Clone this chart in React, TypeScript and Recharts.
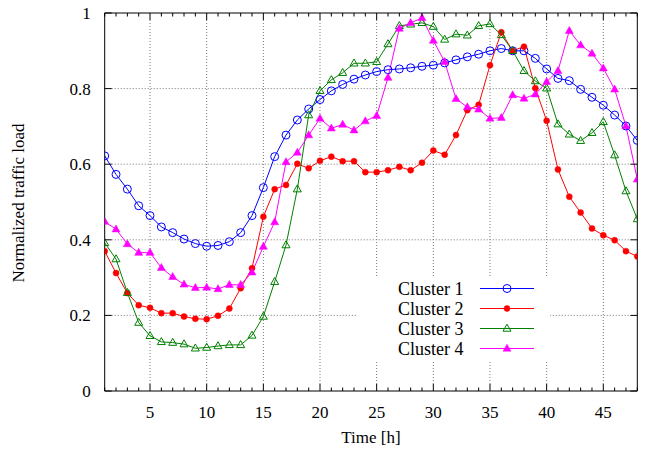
import React from 'react';
import { LineChart, Line, XAxis, YAxis, ReferenceLine, Legend } from 'recharts';

const hours = [1, 2, 3, 4, 5, 6, 7, 8, 9, 10, 11, 12, 13, 14, 15, 16, 17, 18, 19, 20, 21, 22, 23, 24,
  25, 26, 27, 28, 29, 30, 31, 32, 33, 34, 35, 36, 37, 38, 39, 40, 41, 42, 43, 44, 45, 46, 47, 48];

const cluster1 = [0.622, 0.573, 0.534, 0.490, 0.464, 0.434, 0.419, 0.402, 0.390, 0.383, 0.385, 0.395,
  0.419, 0.464, 0.538, 0.620, 0.677, 0.717, 0.746, 0.771, 0.794, 0.811, 0.825, 0.836,
  0.845, 0.850, 0.852, 0.855, 0.859, 0.862, 0.868, 0.876, 0.884, 0.891, 0.900, 0.906,
  0.900, 0.900, 0.880, 0.852, 0.827, 0.821, 0.798, 0.777, 0.756, 0.730, 0.701, 0.663];

const cluster2 = [0.370, 0.312, 0.259, 0.227, 0.220, 0.206, 0.206, 0.197, 0.191, 0.190, 0.199, 0.218,
  0.272, 0.325, 0.461, 0.534, 0.545, 0.601, 0.589, 0.609, 0.620, 0.608, 0.608, 0.579,
  0.579, 0.584, 0.593, 0.584, 0.604, 0.636, 0.625, 0.677, 0.743, 0.757, 0.862, 0.949,
  0.900, 0.911, 0.801, 0.715, 0.586, 0.514, 0.472, 0.430, 0.412, 0.399, 0.370, 0.356];

const cluster3 = [0.392, 0.349, 0.260, 0.181, 0.146, 0.130, 0.128, 0.124, 0.113, 0.115, 0.119, 0.122,
  0.122, 0.147, 0.197, 0.289, 0.386, 0.534, 0.730, 0.794, 0.823, 0.842, 0.867, 0.867,
  0.871, 0.918, 0.966, 0.970, 0.974, 0.964, 0.930, 0.944, 0.941, 0.966, 0.971, 0.942,
  0.900, 0.847, 0.820, 0.801, 0.706, 0.679, 0.662, 0.683, 0.712, 0.624, 0.529, 0.455];

const cluster4 = [0.448, 0.428, 0.389, 0.366, 0.366, 0.326, 0.302, 0.282, 0.273, 0.274, 0.270, 0.281,
  0.281, 0.314, 0.382, 0.447, 0.606, 0.631, 0.677, 0.721, 0.695, 0.705, 0.690, 0.714,
  0.728, 0.829, 0.959, 0.974, 0.987, 0.927, 0.871, 0.773, 0.751, 0.745, 0.721, 0.723,
  0.783, 0.774, 0.785, 0.818, 0.847, 0.953, 0.915, 0.893, 0.854, 0.798, 0.701, 0.560];

const seriesNames = ['Cluster 1', 'Cluster 2', 'Cluster 3', 'Cluster 4'];
const xLabelValues = [5, 10, 15, 20, 25, 30, 35, 40, 45];
const yTickValues = [0, 0.2, 0.4, 0.6, 0.8, 1];
const yTickLabels = ['0', '0.2', '0.4', '0.6', '0.8', '1'];
const yGridValues = [0.2, 0.4, 0.6, 0.8];
const xAxisTitle = 'Time [h]';
const yAxisTitle = 'Normalized traffic load';

const data = hours.map((h, i) => ({
  h,
  c1: cluster1[i],
  c2: cluster2[i],
  c3: cluster3[i],
  c4: cluster4[i],
}));

const FONT = '"Liberation Serif", "Times New Roman", serif';
const BLUE = '#0000ff';
const RED = '#ff0000';
const GREEN = '#008000';
const MAGENTA = '#ff00ff';

const MAJOR = 7;
const MINOR = 3.5;

type MarkerKind = 'openCircle' | 'dot' | 'openTri' | 'fillTri';

const Marker = ({ kind, cx, cy, color }: { kind: MarkerKind; cx: number; cy: number; color: string }) => {
  if (kind === 'openCircle') return <circle cx={cx} cy={cy} r={4} fill="none" stroke={color} strokeWidth={1} />;
  if (kind === 'dot') return <circle cx={cx} cy={cy} r={3} fill={color} stroke={color} strokeWidth={0.5} />;
  const pts = `${cx},${cy - 4.3} ${cx - 4},${cy + 2.7} ${cx + 4},${cy + 2.7}`;
  if (kind === 'openTri') return <polygon points={pts} fill="none" stroke={color} strokeWidth={1} />;
  return <polygon points={pts} fill={color} stroke={color} strokeWidth={0.5} />;
};

const series = [
  { key: 'c1', name: seriesNames[0], color: BLUE, kind: 'openCircle' as MarkerKind },
  { key: 'c2', name: seriesNames[1], color: RED, kind: 'dot' as MarkerKind },
  { key: 'c3', name: seriesNames[2], color: GREEN, kind: 'openTri' as MarkerKind },
  { key: 'c4', name: seriesNames[3], color: MAGENTA, kind: 'fillTri' as MarkerKind },
];

const makeDot = (kind: MarkerKind, color: string) => (props: any) => {
  const { cx, cy, index } = props;
  if (cx == null || cy == null) return <g key={`n${index}`} />;
  return (
    <g key={`d${kind}${index}`}>
      <Marker kind={kind} cx={cx} cy={cy} color={color} />
    </g>
  );
};

const BottomTick = (props: any) => {
  const { x, y, payload } = props;
  const v = payload.value;
  const major = v % 5 === 0;
  return (
    <g>
      <line x1={x} y1={y} x2={x} y2={y - (major ? MAJOR : MINOR)} stroke="#000" strokeWidth={1} />
      {major && (
        <text x={x} y={y + 27} textAnchor="middle" fontFamily={FONT} fontSize={17} fill="#000">
          {v}
        </text>
      )}
    </g>
  );
};

const TopTick = (props: any) => {
  const { x, y, payload } = props;
  const major = payload.value % 5 === 0;
  return <line x1={x} y1={y} x2={x} y2={y + (major ? MAJOR : MINOR)} stroke="#000" strokeWidth={1} />;
};

const LeftTick = (props: any) => {
  const { x, y, index } = props;
  return (
    <g>
      <line x1={x} y1={y} x2={x + MAJOR} y2={y} stroke="#000" strokeWidth={1} />
      <text x={x - 14} y={y + 6} textAnchor="end" fontFamily={FONT} fontSize={17} fill="#000">
        {yTickLabels[index]}
      </text>
    </g>
  );
};

const RightTick = (props: any) => {
  const { x, y } = props;
  return <line x1={x} y1={y} x2={x - MAJOR} y2={y} stroke="#000" strokeWidth={1} />;
};

const LegendBox = () => (
  <svg width={193} height={83} style={{ display: 'block', background: '#fff' }}>
    {series.map((s, i) => {
      const cy = 11.5 + i * 20;
      return (
        <g key={s.key}>
          <text x={41} y={cy + 6} fontFamily={FONT} fontSize={18} fill="#000">
            {s.name}
          </text>
          <line x1={123} y1={cy} x2={177} y2={cy} stroke={s.color} strokeWidth={1} />
          <Marker kind={s.kind} cx={150} cy={cy} color={s.color} />
        </g>
      );
    })}
  </svg>
);

export default function App() {
  return (
    <div style={{ position: 'absolute', left: 0, top: 0, width: 645, height: 452, background: '#fff' }}>
      <LineChart
        width={645}
        height={452}
        data={data}
        margin={{ top: 12, right: 6.7, bottom: 31, left: 44.7 }}
      >
        <XAxis
          xAxisId="b"
          dataKey="h"
          type="number"
          domain={[1, 48]}
          ticks={hours}
          interval={0}
          tickSize={0}
          tickMargin={0}
          tickLine={false}
          axisLine={{ stroke: '#000', strokeWidth: 1 }}
          height={30}
          tick={<BottomTick />}
          allowDataOverflow
        />
        <XAxis
          xAxisId="t"
          orientation="top"
          type="number"
          dataKey="h"
          domain={[1, 48]}
          ticks={hours}
          interval={0}
          tickSize={0}
          tickMargin={0}
          tickLine={false}
          axisLine={{ stroke: '#000', strokeWidth: 1 }}
          height={1}
          tick={<TopTick />}
          allowDataOverflow
        />
        <YAxis
          yAxisId="l"
          type="number"
          domain={[0, 1]}
          ticks={yTickValues}
          interval={0}
          tickSize={0}
          tickMargin={0}
          tickLine={false}
          axisLine={{ stroke: '#000', strokeWidth: 1 }}
          width={60}
          tick={<LeftTick />}
          allowDataOverflow
        />
        <YAxis
          yAxisId="r"
          orientation="right"
          type="number"
          domain={[0, 1]}
          ticks={yTickValues}
          interval={0}
          tickSize={0}
          tickMargin={0}
          tickLine={false}
          axisLine={{ stroke: '#000', strokeWidth: 1 }}
          width={1}
          tick={<RightTick />}
          allowDataOverflow
        />
        {xLabelValues.map((v) => (
          <ReferenceLine
            key={`gx${v}`}
            xAxisId="b"
            yAxisId="l"
            segment={[{ x: v, y: 0.0185 }, { x: v, y: 0.9815 }]}
            stroke="#777"
            strokeDasharray="1 2"
            strokeWidth={1}
          />
        ))}
        {yGridValues.map((v) => (
          <ReferenceLine
            key={`gy${v}`}
            xAxisId="b"
            yAxisId="l"
            segment={[{ x: 1.62, y: v }, { x: 47.38, y: v }]}
            stroke="#777"
            strokeDasharray="1 2"
            strokeWidth={1}
          />
        ))}
        {series.map((s) => (
          <Line
            key={s.key}
            xAxisId="b"
            yAxisId="l"
            type="linear"
            dataKey={s.key}
            name={s.name}
            stroke={s.color}
            strokeWidth={1}
            dot={makeDot(s.kind, s.color)}
            activeDot={false}
            isAnimationActive={false}
          />
        ))}
        <Legend
          layout="horizontal"
          verticalAlign="middle"
          align="center"
          content={() => <LegendBox />}
          wrapperStyle={{ position: 'absolute', left: 357, top: 277, width: 193, height: 83 }}
        />
      </LineChart>
      <svg
        width={645}
        height={452}
        style={{ position: 'absolute', left: 0, top: 0, pointerEvents: 'none' }}
      >
        <text x={371} y={443} textAnchor="middle" fontFamily={FONT} fontSize={17} fill="#000">
          {xAxisTitle}
        </text>
        <text
          x={0}
          y={0}
          transform="translate(24, 203) rotate(-90)"
          textAnchor="middle"
          fontFamily={FONT}
          fontSize={17}
          fill="#000"
        >
          {yAxisTitle}
        </text>
      </svg>
    </div>
  );
}
